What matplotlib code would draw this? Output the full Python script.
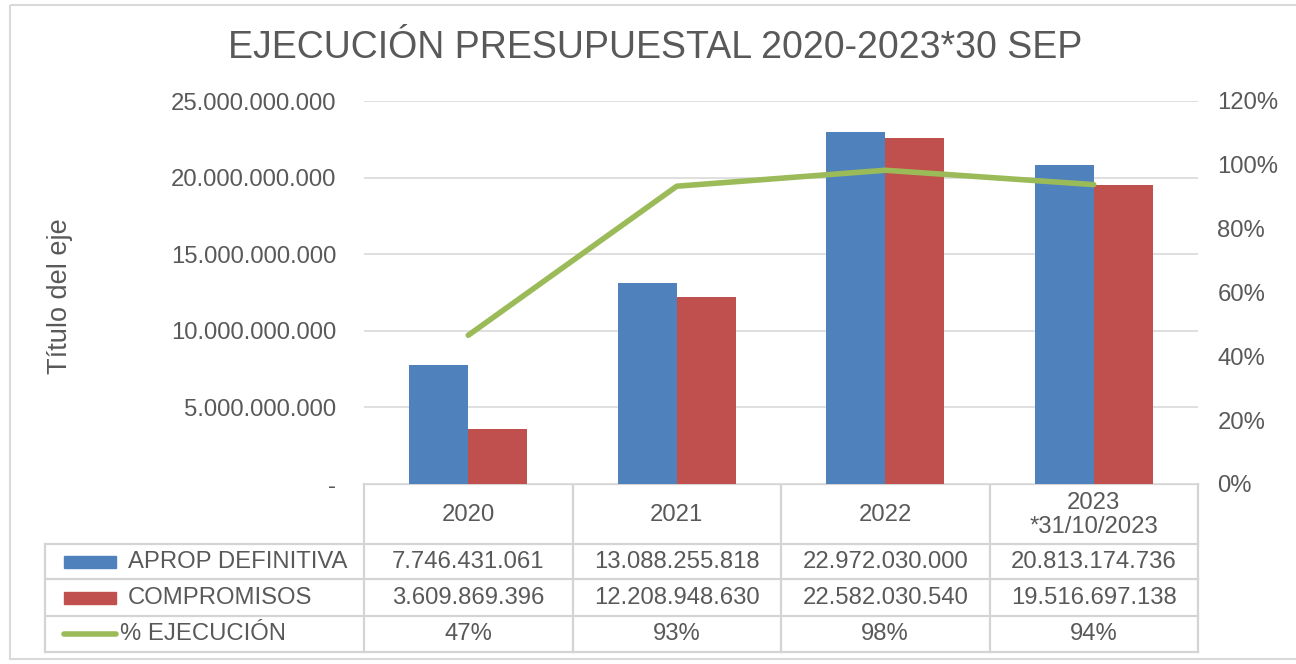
import numpy as np
import matplotlib.pyplot as plt
from matplotlib.lines import Line2D
from matplotlib.patches import Rectangle
from matplotlib.ticker import FuncFormatter

plt.rcParams['font.family'] = ['Liberation Sans', 'DejaVu Sans']

# Datos
years = ['2020', '2021', '2022', '2023\n*31/10/2023']
aprop = [7746431061, 13088255818, 22972030000, 20813174736]
compromisos = [3609869396, 12208948630, 22582030540, 19516697138]
ejecucion = [0.466, 0.933, 0.983, 0.938]
series_names = ['APROP DEFINITIVA', 'COMPROMISOS', '% EJECUCIÓN']

blue = '#4F81BD'
red = '#C0504D'
green = '#9BBB59'
txt = '#595959'
grid = '#D9D9D9'
fs = 17.2

W, H = 1296, 664
fig = plt.figure(figsize=(W / 100, H / 100), dpi=100)

# overlay en pixeles para marco y tabla
ov = fig.add_axes([0, 0, 1, 1])
ov.set_xlim(0, W)
ov.set_ylim(H, 0)
ov.axis('off')
ov.add_patch(Rectangle((10, 5), W, H - 10, fill=False, ec=grid, lw=1.5))

# area de trazado
x0, x1, ytop, ybot = 364, 1198, 101, 484
ax = fig.add_axes([x0 / W, 1 - ybot / H, (x1 - x0) / W, (ybot - ytop) / H])
ax2 = ax.twinx()

x = np.arange(len(years))
bw = 0.283
ax.bar(x - bw / 2, aprop, bw, color=blue, zorder=3)
ax.bar(x + bw / 2, compromisos, bw, color=red, zorder=3)
ax2.plot(x, ejecucion, color=green, lw=4, solid_capstyle='round', zorder=4)

ax.set_xlim(-0.5, len(years) - 0.5)
ax.set_ylim(0, 25e9)
ax.set_yticks(np.arange(0, 25e9 + 1, 5e9))
ax.yaxis.set_major_formatter(FuncFormatter(
    lambda v, p: '-' if v == 0 else f'{v:,.0f}'.replace(',', '.')))
ax2.set_ylim(0, 1.2)
ax2.set_yticks(np.arange(0, 1.21, 0.2))
ax2.yaxis.set_major_formatter(FuncFormatter(lambda v, p: f'{v * 100:.0f}%'))

ax.set_xticks([])
ax.grid(axis='y', color=grid, lw=1.2, zorder=0)
for a in (ax, ax2):
    for s in a.spines.values():
        s.set_visible(False)
ax.tick_params(axis='y', length=0, pad=20, labelsize=fs, labelcolor=txt)
ax2.tick_params(axis='y', length=0, pad=14, labelsize=fs, labelcolor=txt)
ax.set_ylabel('Título del eje', fontsize=19.5, color=txt)
ax.yaxis.set_label_coords(-(x0 - 73) / (x1 - x0), 0.49)

fig.text(0.5 * (230 + 1080) / W, 1 - 48 / H, 'EJECUCIÓN PRESUPUESTAL 2020-2023*30 SEP',
         ha='center', va='center', fontsize=27, color=txt)

# tabla de datos
cols = np.linspace(x0, x1, len(years) + 1)
rows = [484, 544, 579, 616, 652]
lx = 45
lc = '#D4D4D4'
lw = 1.6
ov.add_line(Line2D([x0, x1], [rows[0], rows[0]], color=lc, lw=lw))
for r in rows[1:]:
    ov.add_line(Line2D([lx, x1], [r, r], color=lc, lw=lw))
for c in cols:
    ov.add_line(Line2D([c, c], [rows[0], rows[-1]], color=lc, lw=lw))
ov.add_line(Line2D([lx, lx], [rows[1], rows[-1]], color=lc, lw=lw))

centers = (cols[:-1] + cols[1:]) / 2
for i, c in enumerate(centers):
    ov.text(c, (rows[0] + rows[1]) / 2 + 1, years[i], ha='center', va='center',
            fontsize=fs, color=txt, linespacing=1.1)
    ov.text(c, (rows[1] + rows[2]) / 2, f'{aprop[i]:,}'.replace(',', '.'),
            ha='center', va='center', fontsize=fs, color=txt)
    ov.text(c, (rows[2] + rows[3]) / 2, f'{compromisos[i]:,}'.replace(',', '.'),
            ha='center', va='center', fontsize=fs, color=txt)
    ov.text(c, (rows[3] + rows[4]) / 2, f'{ejecucion[i] * 100:.0f}%',
            ha='center', va='center', fontsize=fs, color=txt)

# leyenda de la tabla
for k, col in enumerate([blue, red]):
    yc = (rows[k + 1] + rows[k + 2]) / 2
    ov.add_patch(Rectangle((64, yc - 6), 52, 12, color=col))
    ov.text(128, yc, series_names[k], ha='left', va='center', fontsize=fs, color=txt)
yc = (rows[3] + rows[4]) / 2
ov.add_line(Line2D([64, 116], [yc, yc], color=green, lw=4, solid_capstyle='round'))
ov.text(120, yc, series_names[2], ha='left', va='center', fontsize=fs, color=txt)

fig.savefig('out.png', dpi=100)
